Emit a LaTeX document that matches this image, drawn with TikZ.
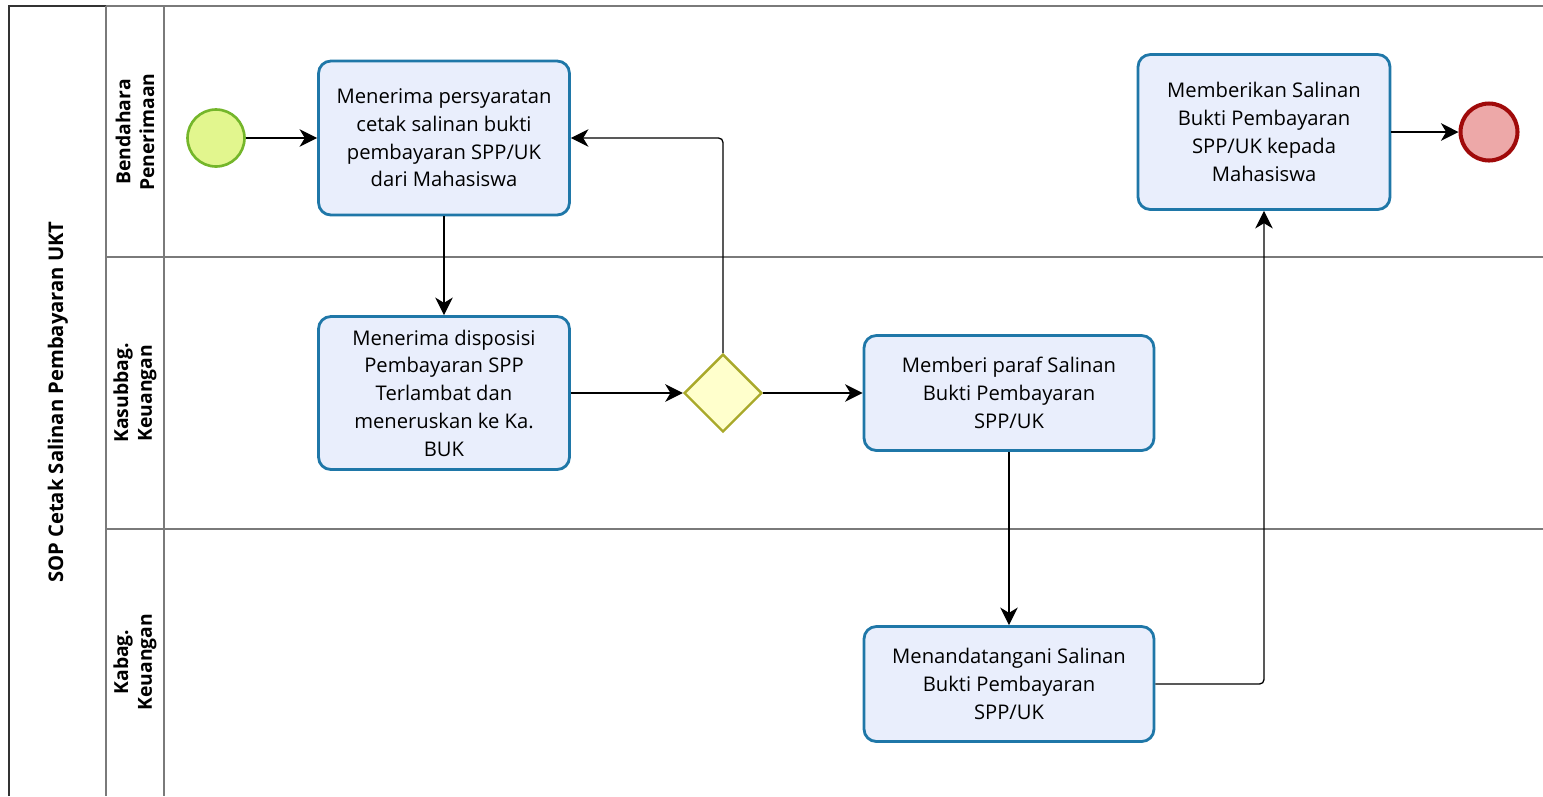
\documentclass[tikz,border=0pt]{standalone}
\usepackage{fontspec}
\setmainfont{Open Sans}
\usetikzlibrary{arrows.meta}
\usetikzlibrary{shapes.geometric}

\definecolor{taskfill}{HTML}{E9EEFC}
\definecolor{taskline}{HTML}{1F77A8}
\definecolor{startfill}{HTML}{E2F68E}
\definecolor{startline}{HTML}{74B62A}
\definecolor{endfill}{HTML}{EDA8A8}
\definecolor{endline}{HTML}{A00A0A}
\definecolor{gatefill}{HTML}{FFFFCC}
\definecolor{gateline}{HTML}{A9A92A}
\definecolor{laneline}{HTML}{7A7A7A}

\tikzset{
  task/.style={draw=taskline, fill=taskfill, line width=1.6pt, rounded corners=7pt,
    align=center, inner sep=2pt, font=\fontsize{11.5}{15.8}\selectfont},
  startev/.style={circle, draw=startline, fill=startfill, line width=1.5pt, minimum size=1.14cm, inner sep=0pt},
  endev/.style={circle, draw=endline, fill=endfill, line width=2.3pt, minimum size=1.14cm, inner sep=0pt},
  gate/.style={diamond, draw=gateline, fill=gatefill, line width=1.4pt, minimum size=1.56cm, inner sep=0pt},
  flow/.style={-{Stealth[length=10pt,width=10pt,inset=3pt]}, line width=0.75pt, rounded corners=2.5pt},
  lane/.style={draw=laneline, line width=0.8pt},
  lanelabel/.style={rotate=90, align=center, font=\bfseries\fontsize{11}{13.5}\selectfont}
}

\begin{document}
\begin{tikzpicture}[x=0.02cm,y=-0.02cm]
\useasboundingbox (0,0) rectangle (1543,796);

% pool and lanes
\draw[line width=0.9pt, draw=black!80] (9,796) -- (9,6) -- (106,6);
\draw[lane] (106,6) -- (1543,6);
\draw[lane] (106,6) -- (106,796);
\draw[lane] (164,6) -- (164,796);
\draw[lane] (106,257) -- (1543,257);
\draw[lane] (106,529) -- (1543,529);

\draw(58,402) node[lanelabel, font=\bfseries\fontsize{11.5}{14}\selectfont] (pool) {SOP Cetak Salinan Pembayaran UKT};
\draw(135,132) node[lanelabel] (bendahara) {Bendahara\\Penerimaan};
\draw(135,393) node[lanelabel] (kasubbag) {Kasubbag.\\Keuangan};
\draw(135,662) node[lanelabel] (kabag) {Kabag.\\Keuangan};

% events, tasks, gateway
\draw(216,138) node[startev] (start) {};
\draw(444,138) node[task, minimum width=5.02cm, minimum height=3.08cm] (terima) {Menerima persyaratan\\cetak salinan bukti\\pembayaran SPP/UK\\dari Mahasiswa};
\draw(444,393) node[task, minimum width=5.02cm, minimum height=3.06cm] (disposisi) {Menerima disposisi\\Pembayaran SPP\\Terlambat dan\\meneruskan ke Ka.\\BUK};
\draw(723,393) node[gate] (cek) {};
\draw(1009,393) node[task, minimum width=5.8cm, minimum height=2.3cm] (paraf) {Memberi paraf Salinan\\Bukti Pembayaran\\SPP/UK};
\draw(1009,684) node[task, minimum width=5.8cm, minimum height=2.3cm] (ttd) {Menandatangani Salinan\\Bukti Pembayaran\\SPP/UK};
\draw(1264,132) node[task, minimum width=5.04cm, minimum height=3.1cm] (berikan) {Memberikan Salinan\\Bukti Pembayaran\\SPP/UK kepada\\Mahasiswa};
\draw(1489,132) node[endev] (selesai) {};

% flows
\draw[flow] (start) -- (terima);
\draw[flow] (terima) -- (disposisi);
\draw[flow] (disposisi) -- (cek);
\draw[flow] (cek) -- (paraf);
\draw[flow] (cek.north) |- (terima.east);
\draw[flow] (paraf) -- (ttd);
\draw[flow] (ttd.east) -| (berikan.south);
\draw[flow] (berikan) -- (selesai);
\end{tikzpicture}
\end{document}
